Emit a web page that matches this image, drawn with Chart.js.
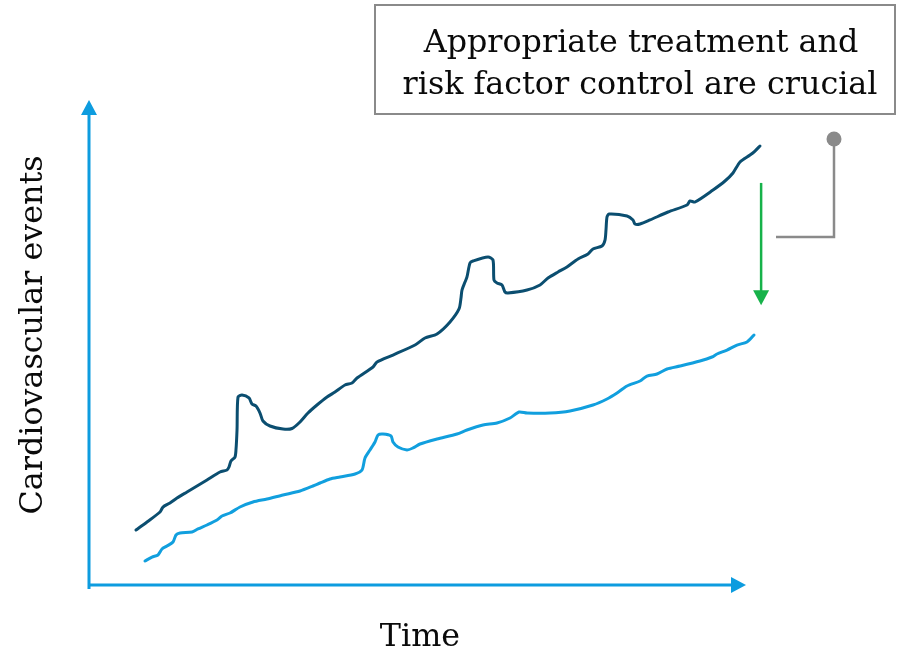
<!DOCTYPE html>
<html>
<head>
<meta charset="utf-8">
<script src="https://cdn.jsdelivr.net/npm/chart.js@4/dist/chart.umd.min.js"></script>
<style>
  html, body { margin: 0; padding: 0; background: #ffffff; }
  canvas { display: block; }
</style>
</head>
<body>
<canvas id="chart" width="900" height="652"></canvas>
<script>
// Cardiovascular events over time (arbitrary units; the axes run 0-100)
// Upper curve: poorly controlled risk; lower curve: with treatment and risk factor control
const timeUncontrolled = [
  7.15, 8.83, 10.81, 11.26, 12.33, 13.39, 14.92, 16.44, 17.96, 19.94, 21.0, 21.31, 21.61, 22.22,
  22.37, 22.53, 22.68, 23.29, 24.35, 24.81, 25.42, 26.03, 26.48, 27.55, 29.53, 30.9, 32.12, 33.33,
  34.7, 36.23, 37.44, 38.96, 40.03, 40.79, 43.23, 43.84, 46.27, 49.62, 51.14, 52.97, 54.95, 56.32,
  56.62, 56.77, 57.23, 57.53, 57.99, 58.45, 60.73, 61.49, 61.64, 62.1, 62.86, 63.32, 63.77, 66.67,
  68.65, 69.86, 71.39, 72.75, 74.43, 75.95, 76.71, 78.08, 78.54, 78.69, 78.84, 79.15, 81.89, 82.8,
  83.11, 83.87, 85.39, 88.13, 91.02, 91.48, 92.24, 94.98, 96.8, 98.02, 99.09, 100.61, 101.37, 102.13
];
const eventsUncontrolled = [
  11.34, 12.99, 15.05, 16.08, 16.91, 17.94, 19.18, 20.41, 21.65, 23.3, 23.71, 24.33, 25.57, 26.39,
  27.84, 31.96, 38.76, 39.18, 38.56, 37.32, 36.91, 35.46, 33.81, 32.78, 32.16, 32.27, 33.61, 35.46,
  37.11, 38.76, 39.79, 41.24, 41.65, 42.68, 44.95, 45.98, 47.42, 49.48, 50.93, 51.75, 54.23, 56.91,
  59.18, 60.82, 62.47, 63.51, 66.39, 66.8, 67.63, 67.01, 62.89, 62.27, 61.86, 60.41, 60.21, 60.82,
  61.86, 63.3, 64.54, 65.57, 67.22, 68.25, 69.28, 69.9, 71.13, 73.2, 75.88, 76.49, 76.08, 75.26,
  74.43, 74.43, 75.26, 76.91, 78.35, 79.18, 78.97, 81.44, 83.3, 84.95, 87.22, 88.66, 89.48, 90.52
];

const timeControlled = [
  8.52, 9.59, 10.5, 11.11, 11.87, 12.79, 13.24, 13.85, 15.68, 16.59, 17.96, 19.48, 20.24, 21.46,
  22.98, 24.96, 27.09, 29.53, 32.12, 34.09, 35.16, 36.68, 38.2, 40.49, 41.55, 42.01, 42.77, 43.53,
  43.99, 44.75, 45.97, 46.27, 47.03, 48.4, 49.32, 50.38, 52.97, 56.01, 57.53, 59.97, 62.1, 64.08,
  65.45, 66.67, 70.17, 73.21, 76.71, 78.84, 80.37, 81.89, 83.87, 84.93, 86.45, 87.98, 89.95, 92.99,
  94.82, 95.59, 97.11, 98.63, 100.15, 101.22
];
const eventsControlled = [
  4.95, 5.77, 6.19, 7.42, 8.04, 8.87, 10.31, 10.72, 10.93, 11.55, 12.37, 13.4, 14.23, 14.85,
  16.08, 17.11, 17.73, 18.56, 19.38, 20.41, 21.03, 21.86, 22.27, 22.89, 23.71, 26.19, 27.84, 29.48,
  30.93, 31.13, 30.72, 29.48, 28.45, 27.84, 28.25, 29.07, 30.1, 31.13, 31.96, 32.99, 33.4, 34.43,
  35.67, 35.46, 35.46, 35.88, 37.11, 38.35, 39.59, 41.03, 42.06, 43.09, 43.51, 44.54, 45.15, 46.19,
  47.01, 47.63, 48.45, 49.48, 50.1, 51.55
];

// Reduction arrow between the two curves (data units)
const reductionTime = [102.3];
const reductionFrom = [82.9];
const reductionTo = [57.7];

const calloutText = ['Appropriate treatment and', 'risk factor control are crucial'];
const xAxisTitle = 'Time';
const yAxisTitle = 'Cardiovascular events';

// Axis arrows end at 100; the x scale leaves room past it for the curve ends
const AXIS_END = 100;
const X_SCALE_MAX = 104;

const COLORS = {
  axis: '#0d9cdf',
  uncontrolled: '#0b4e70',
  controlled: '#119fde',
  reduction: '#17b24a',
  callout: '#8a8a8a',
  text: '#0a0a0a'
};
const SERIF = '"DejaVu Serif", "Liberation Serif", serif';

const toPoints = (xs, ys) => xs.map((x, i) => ({ x, y: ys[i] }));

function arrowHead(ctx, tipX, tipY, dirX, dirY, len, half) {
  const bx = tipX - dirX * len, by = tipY - dirY * len;
  ctx.beginPath();
  ctx.moveTo(tipX, tipY);
  ctx.lineTo(bx - dirY * half, by + dirX * half);
  ctx.lineTo(bx + dirY * half, by - dirX * half);
  ctx.closePath();
  ctx.fill();
}

// Axis lines with arrowheads, drawn under the curves
const axesPlugin = {
  id: 'arrowAxes',
  beforeDatasetsDraw(chart) {
    const { ctx, scales: { x, y } } = chart;
    const x0 = x.getPixelForValue(0), x1 = x.getPixelForValue(AXIS_END);
    const y0 = y.getPixelForValue(0), y1 = y.getPixelForValue(AXIS_END);
    ctx.save();
    ctx.strokeStyle = COLORS.axis;
    ctx.fillStyle = COLORS.axis;
    ctx.lineWidth = 3;
    ctx.beginPath();
    ctx.moveTo(x0, y0 + 4);
    ctx.lineTo(x0, y1 + 12);
    ctx.moveTo(x0 - 1.5, y0);
    ctx.lineTo(x1 - 12, y0);
    ctx.stroke();
    arrowHead(ctx, x0, y1, 0, -1, 15, 8);
    arrowHead(ctx, x1, y0, 1, 0, 15, 8);
    ctx.restore();
  }
};

// Text, callout box, connector and reduction arrow
const annotationPlugin = {
  id: 'annotations',
  afterDatasetsDraw(chart) {
    const { ctx, scales: { x, y } } = chart;
    ctx.save();

    // font sized so the longest callout line spans its box
    ctx.font = '100px ' + SERIF;
    const size = 100 * 475 / ctx.measureText(calloutText[1]).width;
    const font = size.toFixed(2) + 'px ' + SERIF;

    // callout box
    ctx.strokeStyle = COLORS.callout;
    ctx.lineWidth = 2;
    ctx.strokeRect(375, 5, 520, 109);
    ctx.fillStyle = COLORS.text;
    ctx.font = font;
    ctx.textAlign = 'center';
    ctx.textBaseline = 'alphabetic';
    ctx.fillText(calloutText[0], 641, 52);
    ctx.fillText(calloutText[1], 640, 94);

    // elbow connector with dot
    ctx.strokeStyle = COLORS.callout;
    ctx.fillStyle = COLORS.callout;
    ctx.lineWidth = 2.5;
    ctx.beginPath();
    ctx.moveTo(834, 139);
    ctx.lineTo(834, 237);
    ctx.lineTo(776, 237);
    ctx.stroke();
    ctx.beginPath();
    ctx.arc(834, 139, 7.5, 0, Math.PI * 2);
    ctx.fill();

    // reduction arrow
    const ax = x.getPixelForValue(reductionTime[0]);
    const ay0 = y.getPixelForValue(reductionFrom[0]);
    const ay1 = y.getPixelForValue(reductionTo[0]);
    ctx.strokeStyle = COLORS.reduction;
    ctx.fillStyle = COLORS.reduction;
    ctx.lineWidth = 2.5;
    ctx.beginPath();
    ctx.moveTo(ax, ay0);
    ctx.lineTo(ax, ay1 - 12);
    ctx.stroke();
    arrowHead(ctx, ax, ay1, 0, 1, 15, 8);

    // axis titles
    ctx.fillStyle = COLORS.text;
    ctx.font = font;
    ctx.textAlign = 'center';
    ctx.fillText(xAxisTitle, 420, 646);
    ctx.save();
    ctx.translate(42, 335);
    ctx.rotate(-Math.PI / 2);
    ctx.fillText(yAxisTitle, 0, 0);
    ctx.restore();

    ctx.restore();
  }
};

// plot area: x 0..104 over 89..772 px, y 0..100 over 585..100 px
const PLOT_LEFT = 89, PLOT_TOP = 100, PLOT_BOTTOM = 585;
const PLOT_RIGHT = 89 + (746 - 89) * X_SCALE_MAX / AXIS_END;

new Chart(document.getElementById('chart'), {
  type: 'line',
  data: {
    datasets: [
      {
        label: 'Uncontrolled risk',
        data: toPoints(timeUncontrolled, eventsUncontrolled),
        borderColor: COLORS.uncontrolled,
        borderWidth: 3,
        pointRadius: 0,
        tension: 0.25,
        borderJoinStyle: 'round',
        borderCapStyle: 'round',
        clip: false
      },
      {
        label: 'Treated and controlled',
        data: toPoints(timeControlled, eventsControlled),
        borderColor: COLORS.controlled,
        borderWidth: 3,
        pointRadius: 0,
        tension: 0.25,
        borderJoinStyle: 'round',
        borderCapStyle: 'round',
        clip: false
      }
    ]
  },
  options: {
    responsive: false,
    animation: false,
    devicePixelRatio: 1,
    layout: {
      padding: { left: PLOT_LEFT, right: 900 - PLOT_RIGHT, top: PLOT_TOP, bottom: 652 - PLOT_BOTTOM }
    },
    plugins: { legend: { display: false }, tooltip: { enabled: false } },
    scales: {
      x: { type: 'linear', min: 0, max: X_SCALE_MAX, display: false },
      y: { type: 'linear', min: 0, max: AXIS_END, display: false }
    }
  },
  plugins: [axesPlugin, annotationPlugin]
});
</script>
</body>
</html>
